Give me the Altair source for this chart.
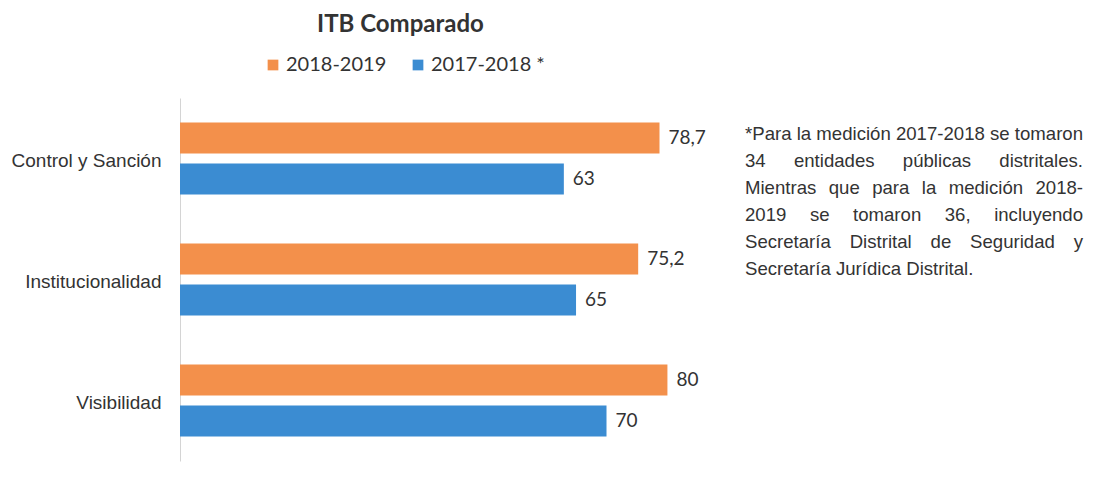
import altair as alt
import pandas as pd

categories = ["Control y Sanción", "Institucionalidad", "Visibilidad"]
series = ["2018-2019", "2017-2018 *"]
values_2018_2019 = [78.7, 75.2, 80]
values_2017_2018 = [63, 65, 70]
colors = ["#F3904B", "#3B8CD2"]
note_lines = [
    "*Para la medición 2017-2018 se tomaron",
    "34 entidades públicas distritales.",
    "Mientras que para la medición 2018-",
    "2019 se tomaron 36, incluyendo",
    "Secretaría Distrital de Seguridad y",
    "Secretaría Jurídica Distrital.",
]

rows = []
for c, a, b in zip(categories, values_2018_2019, values_2017_2018):
    rows.append({"cat": c, "series": series[0], "value": a})
    rows.append({"cat": c, "series": series[1], "value": b})
df = pd.DataFrame(rows)
df["label"] = df["value"].map(lambda v: (f"{v:g}").replace(".", ","))

# --- justified note: Arial/Liberation Sans advance widths (per 1000 em) ---
ADV = {"*": 389, "P": 667, "M": 833, "S": 667, "D": 722, "J": 500,
       "-": 333, ".": 278, ",": 278, " ": 278,
       "a": 556, "b": 556, "c": 500, "d": 556, "e": 556, "g": 556, "i": 222,
       "l": 222, "m": 833, "n": 556, "o": 556, "p": 556, "q": 556, "r": 333,
       "s": 500, "t": 278, "u": 556, "y": 500, "ó": 556, "ú": 556, "í": 278}
NOTE_FS = 18.6
NOTE_X0 = 565       # relative to plot left
NOTE_Y0 = 42        # first baseline, relative to plot top
NOTE_LH = 27


def wlen(w):
    return sum(ADV.get(ch, 556) for ch in w) * NOTE_FS / 1000


full_w = wlen(note_lines[0])
words = []
for li, line in enumerate(note_lines):
    ws = line.split(" ")
    total = sum(wlen(w) for w in ws)
    last = li == len(note_lines) - 1
    gap = wlen(" ") if (last or len(ws) < 2) else (full_w - total) / (len(ws) - 1)
    xpos = NOTE_X0
    for w in ws:
        words.append({"w": w, "px": xpos, "py": NOTE_Y0 + li * NOTE_LH})
        xpos += wlen(w) + gap
note_df = pd.DataFrame(words)

x = alt.X("value:Q", scale=alt.Scale(domain=[0, 140]), axis=None)
y = alt.Y(
    "cat:N",
    sort=categories,
    scale=alt.Scale(paddingInner=0.405, paddingOuter=0.2025),
    axis=alt.Axis(
        title=None, ticks=False, domainColor="#d4d4d4", domainWidth=1,
        labelFont="Liberation Sans", labelFontSize=19, labelColor="#333333",
        labelPadding=19, labelOffset=2,
    ),
)
yoff = alt.YOffset("series:N", sort=series,
                   scale=alt.Scale(paddingInner=0.244, paddingOuter=0))
color = alt.Color(
    "series:N",
    scale=alt.Scale(domain=series, range=colors),
    legend=alt.Legend(
        title=None, orient="none", direction="horizontal",
        legendX=83, legendY=-43, symbolType="square", symbolSize=115,
        symbolStrokeWidth=0, labelFont="Lato", labelFontSize=20,
        labelColor="#333333", columnPadding=21, labelOffset=3,
    ),
)

bars = alt.Chart(df).mark_bar().encode(x=x, y=y, yOffset=yoff, color=color)
labels = alt.Chart(df).mark_text(
    align="left", baseline="middle", dx=9, font="Lato", fontSize=19, color="#333333"
).encode(x=x, y=y, yOffset=yoff, text="label:N")

note = alt.Chart(note_df).mark_text(
    align="left", baseline="alphabetic",
    font="Liberation Sans", fontSize=NOTE_FS, color="#333333",
).encode(
    x=alt.X("px:Q", scale=None, axis=None),
    y=alt.Y("py:Q", scale=None, axis=None),
    text="w:N",
)

chart = alt.layer(alt.layer(bars, labels), note).resolve_scale(
    x="independent", y="independent"
).properties(
    width=853, height=363,
    autosize=alt.AutoSizeParams(type="none"),
    padding={"left": 172, "top": 90, "right": 52, "bottom": 29},
    background="white",
    title=alt.TitleParams(
        "ITB Comparado", anchor="start", dx=306, offset=18,
        font="Lato", fontSize=24, fontWeight="bold", color="#333333",
    ),
).configure_view(stroke=None)

chart.save("out.html", embed_options={"renderer": "svg", "actions": False})
